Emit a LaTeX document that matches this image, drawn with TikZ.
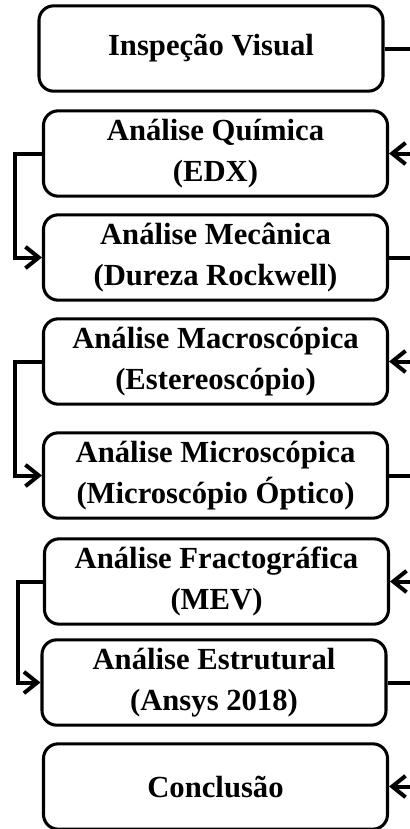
\documentclass[tikz,border=0pt]{standalone}
\usepackage{fontspec}
\setmainfont{Liberation Serif}
\usetikzlibrary{arrows.meta}
\begin{document}
\begin{tikzpicture}
[x=0.75pt,y=-0.75pt,
  boxdecorate/.style={shape=rectangle,rounded corners=11pt,draw,line width=2.3pt,
    minimum width=258pt,minimum height=64pt,inner sep=0pt,align=center,
    font=\fontsize{23}{31}\selectfont\bfseries},%
  linedecorate/.style={-,line width=3pt},%
  arrowdecorate/.style={-{Straight Barb[length=10pt,width=16pt,line width=3pt]},line width=3pt}]
\useasboundingbox (0,0) rectangle (410,829);
%% nodes or vertices
\foreach \nodename/\x/\y/\txt in {insp/211/48.5/{Inspeção Visual},
  quim/215.5/153.5/{Análise Química\\(EDX)},
  mec/215.5/257.5/{Análise Mecânica\\(Dureza Rockwell)},
  macro/215.5/361.5/{Análise Macroscópica\\(Estereoscópio)},
  micro/215.5/475.5/{Análise Microscópica\\(Microscópio Óptico)},
  fract/216.5/581.5/{Análise Fractográfica\\(MEV)},
  estr/214/682.5/{Análise Estrutural\\(Ansys 2018)},
  concl/215.5/786.5/{Conclusão}} {
  \node (\nodename) at (\x,\y) [boxdecorate] {\txt};
  \coordinate (r\nodename) at (410,\y);
}
%% lines going out on the right
\foreach \nodename in {insp, mec, micro, estr} {
  \draw[linedecorate] (\nodename.east) -- (r\nodename);
}
%% arrows coming in on the right
\foreach \nodename in {quim, macro, fract, concl} {
  \draw[arrowdecorate] (r\nodename) -- (\nodename.east);
}
%% arrows on the left
\foreach \startnode/\endnode/\xl in {quim/mec/15, macro/micro/15, fract/estr/18} {
  \draw[arrowdecorate] (\startnode.west) -- (\xl,0 |- \startnode.west) |- (\endnode.west);
}
\end{tikzpicture}
\end{document}
